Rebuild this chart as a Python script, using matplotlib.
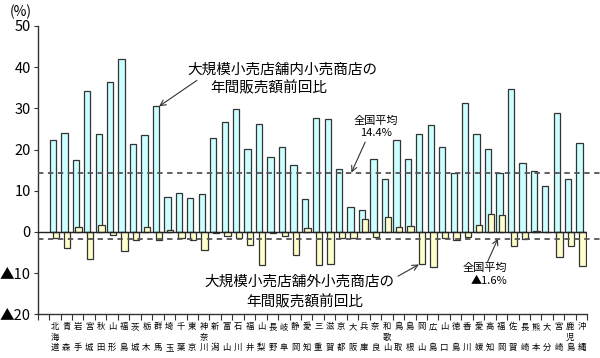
import numpy as np
import matplotlib.pyplot as plt

plt.rcParams['font.family'] = ['Noto Sans CJK JP', 'DejaVu Sans']

prefs = ['北海道', '青森', '岩手', '宮城', '秋田', '山形', '福島', '茨城', '栃木', '群馬',
         '埼玉', '千葉', '東京', '神奈川', '新潟', '富山', '石川', '福井', '山梨', '長野',
         '岐阜', '静岡', '愛知', '三重', '滋賀', '京都', '大阪', '兵庫', '奈良', '和歌山',
         '鳥取', '島根', '岡山', '広島', '山口', '徳島', '香川', '愛媛', '高知', '福岡',
         '佐賀', '長崎', '熊本', '大分', '宮崎', '鹿児島', '沖縄']

# 大規模小売店舗内小売商店の年間販売額前回比 (%)
inside = [22.3, 24.0, 17.5, 34.1, 23.7, 36.3, 41.9, 21.4, 23.5, 30.5,
          8.4, 9.4, 8.2, 9.3, 22.7, 26.6, 29.8, 20.1, 26.1, 18.2,
          20.6, 16.3, 8.1, 27.6, 27.3, 15.2, 6.0, 5.3, 17.6, 12.8,
          22.3, 17.6, 23.7, 25.9, 20.6, 14.3, 31.2, 23.7, 20.1, 14.2,
          34.6, 16.7, 14.7, 11.2, 28.8, 12.8, 21.5]

# 大規模小売店舗外小売商店の年間販売額前回比 (%)
outside = [-1.5, -4.0, 1.1, -6.5, 1.7, -0.7, -4.7, -2.0, 1.1, -2.0,
           0.4, -1.5, -2.0, -4.4, -0.2, -1.0, -1.5, -3.2, -8.1, -0.2,
           -1.0, -5.7, 0.9, -8.1, -7.9, -1.5, -1.4, 3.1, -1.3, 3.6,
           1.1, 1.5, -7.9, -8.6, -1.5, -1.9, -1.3, 1.7, 4.4, 4.0,
           -3.5, -1.8, 0.3, 0.0, -6.2, -3.4, -8.3]

avg_inside = 14.4
avg_outside = -1.6

yticks = [50, 40, 30, 20, 10, 0, -10, -20]
ylabels = ['50', '40', '30', '20', '10', '0', '▲10', '▲20']

fig = plt.figure(figsize=(6, 3.58), dpi=100)
ax = fig.add_axes([0.0628, 0.1221, 0.916, 0.8053])

# first slot is left empty, prefectures sit at 1..47
x = np.arange(1, len(prefs) + 1)
w = 0.55
ax.bar(x - 0.17, inside, w, color='#ccffff', edgecolor='#333333', linewidth=0.9, zorder=2)
ax.bar(x + 0.07, outside, w, color='#ffffcc', edgecolor='#333333', linewidth=0.9, zorder=3)

ax.set_xlim(-0.5, 47.5)
ax.set_ylim(-20, 50)

ax.axhline(0, color='#222222', lw=1.0, zorder=4)
for v in (avg_inside, avg_outside):
    ax.plot([0, 1.025], [v, v], transform=ax.get_yaxis_transform(), ls=(0, (3, 2.5)),
            color='#555555', lw=1.3, clip_on=False, zorder=5)

for s in ('top', 'right'):
    ax.spines[s].set_visible(False)
for s in ('left', 'bottom'):
    ax.spines[s].set_color('#333333')
    ax.spines[s].set_linewidth(1.0)

ax.set_yticks(yticks)
ax.set_yticklabels(ylabels, fontsize=10.5)
ax.tick_params(axis='y', direction='out', length=3, pad=2, color='#333333')

ax.set_xticks(np.arange(-0.5, 48, 1))
ax.set_xticklabels([])
ax.tick_params(axis='x', which='major', direction='out', length=4, color='#333333')

# prefecture names, written vertically
for xi, name in zip(x, prefs):
    if len(name) == 2:
        rows = [(name[0], -0.042), (name[1], -0.115)]
    else:
        rows = [(name[0], -0.042), (name[1], -0.079), (name[2], -0.115)]
    for ch, yy in rows:
        ax.text(xi, yy, ch, transform=ax.get_xaxis_transform(), ha='center', va='center',
                fontsize=6.0, clip_on=False)

fig.text(0.034, 0.966, '(%)', ha='center', va='center', fontsize=10)

arrow = dict(arrowstyle='->', color='#333333', lw=0.8, shrinkA=0, shrinkB=0)

# inside-store label
ax.text(12.54, 39.3, '大規模小売店舗内小売商店の', ha='left', va='center', fontsize=10.5)
ax.text(14.55, 34.9, '年間販売額前回比', ha='left', va='center', fontsize=10.5)
ax.annotate('', xy=(10 - 0.17 + w / 2, inside[9]), xytext=(13.41, 36.8), arrowprops=arrow)

# outside-store label
ax.text(22.33, -12.1, '大規模小売店舗外小売商店の', ha='center', va='center', fontsize=10.5)
ax.text(22.85, -17.0, '年間販売額前回比', ha='center', va='center', fontsize=10.5)
ax.annotate('', xy=(33 + 0.07 - w / 2, outside[32]), xytext=(30.97, -10.75), arrowprops=arrow)

# national averages
ax.text(29.04, 27.0, '全国平均', ha='center', va='center', fontsize=8)
ax.text(29.04, 23.9, '14.4%', ha='center', va='center', fontsize=8)
ax.annotate('', xy=(26.9, avg_inside), xytext=(28.1, 21.8), arrowprops=arrow)

ax.text(38.56, -8.7, '全国平均', ha='center', va='center', fontsize=8)
ax.text(38.9, -11.8, '▲1.6%', ha='center', va='center', fontsize=8)
ax.annotate('', xy=(39.7, avg_outside), xytext=(38.8, -7.2), arrowprops=arrow)

fig.savefig('out.png', dpi=100)
